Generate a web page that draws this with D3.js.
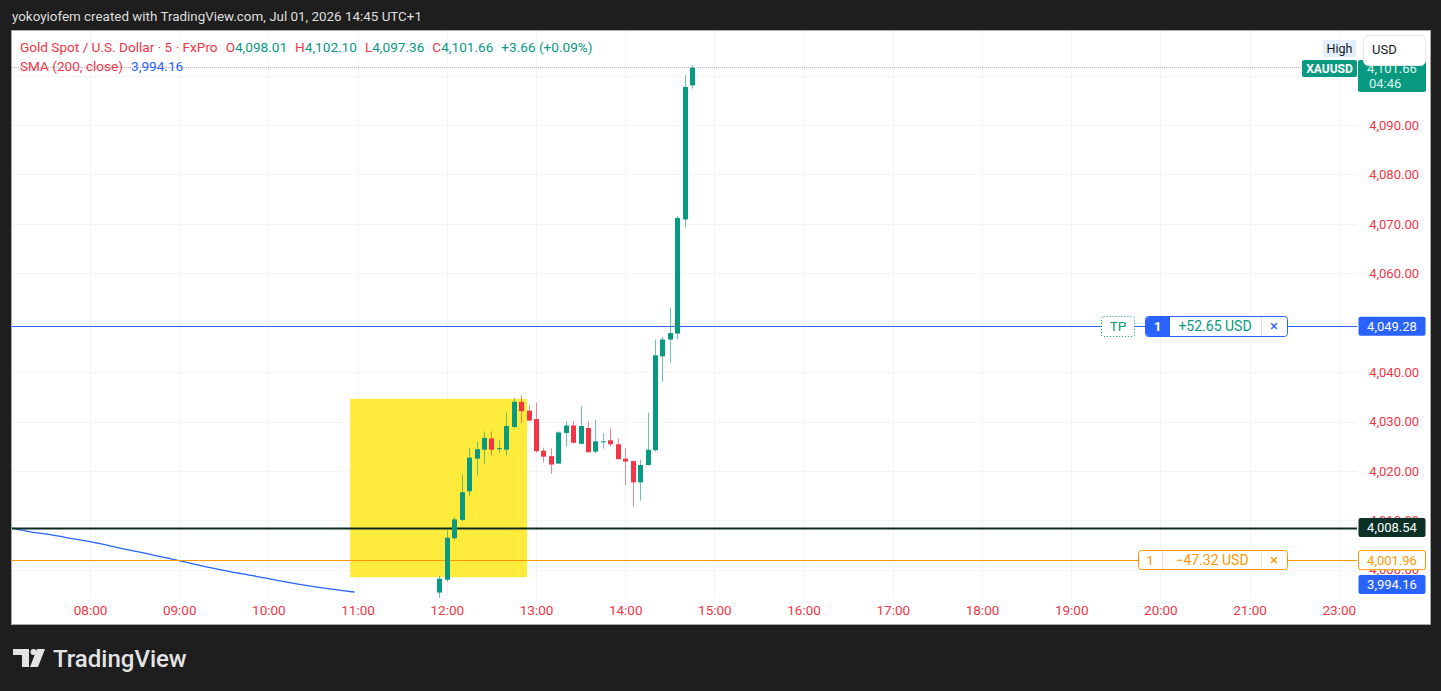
<!DOCTYPE html>
<html>
<head>
<meta charset="utf-8">
<script src="https://cdn.jsdelivr.net/npm/d3@7"></script>
<style>
body{margin:0;background:#1e1e1e;overflow:hidden}
svg{display:block;font-family:Roboto,"Noto Sans",sans-serif}
</style>
</head>
<body>
<svg id="chart" width="1441" height="691"></svg>
<script>
//XAUUSD 5分钟K线 截图复刻

var times=["11:55","12:00","12:05","12:10","12:15","12:20","12:25","12:30","12:35","12:40","12:45","12:50","12:55",
    "13:00","13:05","13:10","13:15","13:20","13:25","13:30","13:35","13:40","13:45","13:50","13:55",
    "14:00","14:05","14:10","14:15","14:20","14:25","14:30","14:35","14:40","14:45"];
var opens =[3995.4,3998.0,4006.4,4010.1,4015.9,4022.5,4024.3,4026.6,4024.4,4024.3,4028.9,4034.0,4032.2,
    4030.5,4024.1,4023.0,4021.5,4027.7,4029.2,4025.5,4028.7,4023.9,4025.9,4026.2,4025.4,
    4022.5,4022.0,4017.7,4021.2,4024.2,4043.2,4046.6,4047.8,4070.9,4098.01];
var highs =[3998.8,4008.0,4010.7,4019.3,4024.7,4025.9,4028.0,4028.0,4026.2,4031.8,4034.8,4035.3,4033.4,
    4033.8,4024.7,4024.6,4028.0,4030.0,4030.1,4033.1,4030.0,4030.4,4027.6,4028.6,4026.6,
    4024.6,4022.1,4022.3,4031.8,4046.6,4047.1,4053.0,4071.6,4100.1,4102.10];
var lows  =[3993.0,3997.6,4006.0,4009.8,4014.9,4019.1,4021.5,4023.1,4023.7,4023.1,4028.7,4029.7,4030.0,
    4023.7,4021.7,4019.4,4021.4,4024.9,4025.6,4025.4,4023.7,4023.5,4024.5,4025.0,4022.3,
    4017.1,4012.8,4014.0,4021.1,4024.0,4038.0,4041.9,4046.6,4069.3,4097.36];
var closes=[3998.2,4006.5,4010.2,4015.7,4022.7,4024.4,4026.7,4024.3,4024.6,4029.1,4034.0,4032.1,4030.2,
    4024.0,4022.9,4021.3,4027.8,4029.2,4025.7,4029.1,4023.8,4026.0,4026.0,4025.4,4022.4,
    4021.9,4017.7,4021.2,4024.3,4043.4,4046.6,4047.9,4071.2,4097.7,4101.66];

//SMA(200) 只有左段在可视范围内
var smaTimes=["07:05","07:20","07:35","07:50","08:05","08:20","08:35","08:50","09:05","09:20","09:35","09:50","10:05","10:20","10:35","10:50","10:58"];
var smaValues=[4008.6,4007.7,4007.0,4006.2,4005.4,4004.4,4003.5,4002.5,4001.5,4000.5,3999.6,3998.8,3997.9,3997.1,3996.4,3995.8,3995.5];

//4050/4100 被标签完全遮挡，不画
var priceTicks=[4000,4010,4020,4030,4040,4060,4070,4080,4090];
var timeTicks=[8,9,10,11,12,13,14,15,16,17,18,19,20,21,22];
var timeLabels=["08:00","09:00","10:00","11:00","12:00","13:00","14:00","15:00","16:00","17:00","18:00","19:00","20:00","21:00","23:00"];

var zoneTimes=["10:55","12:54"];
var zonePrices=[4034.6,3998.5];

var tpPrice=4049.28, slPrice=4001.96, entryPrice=4008.54, smaLast=3994.16, lastPrice=4101.66;

var GREEN="#089981", RED="#f23645", BLUE="#2962ff", ORANGE="#ff9800";
var PANE={left:12,right:1357,top:31,bottom:598};
var FONT="Roboto,'Noto Sans',sans-serif";

var svg=d3.select("#chart");

function hour(s){var p=s.split(":");return +p[0]+(+p[1])/60;}

var x=d3.scaleLinear().domain([8,9]).range([90,179.2]);
var y=d3.scaleLinear().domain([4050,4090]).range([322.7,125]);

//外框 + 白色画布
svg.append("rect").attr("x",11.5).attr("y",30.5).attr("width",1419).attr("height",594)
    .attr("fill","#fff").attr("stroke","#a8a8a8");

//顶部说明
svg.append("text").attr("x",12).attr("y",21).attr("font-size",13.4).attr("fill","#dedede")
    .text("yokoyiofem created with TradingView.com, Jul 01, 2026 14:45 UTC+1");

//网格
var grid=svg.append("g").attr("stroke","#f3f4f6").attr("stroke-width",1);
grid.selectAll("line.h").data(priceTicks.concat([4050,4100])).enter().append("line").attr("class","h")
    .attr("x1",PANE.left).attr("x2",PANE.right)
    .attr("y1",function(d){return Math.round(y(d))+0.5}).attr("y2",function(d){return Math.round(y(d))+0.5});
grid.selectAll("line.v").data(timeTicks).enter().append("line").attr("class","v")
    .attr("y1",PANE.top).attr("y2",PANE.bottom)
    .attr("x1",function(d){return Math.round(x(d))+0.5}).attr("x2",function(d){return Math.round(x(d))+0.5});

svg.append("clipPath").attr("id","pane").append("rect")
    .attr("x",PANE.left).attr("y",PANE.top).attr("width",PANE.right-PANE.left).attr("height",PANE.bottom-PANE.top);
var plot=svg.append("g").attr("clip-path","url(#pane)");

//黄色区域
plot.append("rect")
    .attr("x",x(hour(zoneTimes[0]))).attr("y",y(zonePrices[0]))
    .attr("width",x(hour(zoneTimes[1]))-x(hour(zoneTimes[0])))
    .attr("height",y(zonePrices[1])-y(zonePrices[0]))
    .attr("fill","#ffeb3b");

//SMA
var smaLine=d3.line().x(function(d,i){return x(hour(smaTimes[i]))}).y(function(d){return y(d)}).curve(d3.curveMonotoneX);
plot.append("path").datum(smaValues).attr("d",smaLine).attr("fill","none").attr("stroke",BLUE).attr("stroke-width",1.3);

//水平线
function hline(p,color,w){
    plot.append("line").attr("x1",PANE.left).attr("x2",PANE.right)
        .attr("y1",Math.round(y(p))+0.5).attr("y2",Math.round(y(p))+0.5)
        .attr("stroke",color).attr("stroke-width",w);
}
hline(tpPrice,BLUE,1);
hline(slPrice,ORANGE,1);
hline(entryPrice,"#0b2a22",2);

//K线
var bars=times.map(function(t,i){return {t:hour(t),o:opens[i],h:highs[i],l:lows[i],c:closes[i]}});
var candle=plot.selectAll("g.candle").data(bars).enter().append("g").attr("class","candle");
candle.append("line")
    .attr("x1",function(d){return Math.round(x(d.t))+0.5}).attr("x2",function(d){return Math.round(x(d.t))+0.5})
    .attr("y1",function(d){return y(d.h)}).attr("y2",function(d){return y(d.l)})
    .attr("stroke",function(d){return d.c>=d.o?GREEN:RED}).attr("stroke-opacity",0.6);
candle.append("rect")
    .attr("x",function(d){return Math.round(x(d.t))-2})
    .attr("width",5)
    .attr("y",function(d){return y(Math.max(d.o,d.c))})
    .attr("height",function(d){return Math.max(1,Math.abs(y(d.o)-y(d.c)))})
    .attr("fill",function(d){return d.c>=d.o?GREEN:RED});

//现价虚线
var ly=Math.round(y(lastPrice))+0.5;
svg.append("line").attr("x1",PANE.left).attr("x2",1302).attr("y1",ly).attr("y2",ly)
    .attr("stroke","#f7a6ae").attr("stroke-dasharray","1,3");
svg.append("line").attr("x1",PANE.left+2).attr("x2",1302).attr("y1",ly).attr("y2",ly)
    .attr("stroke","#93b1ff").attr("stroke-dasharray","1,3");

//价格轴
var yAxis=d3.axisRight(y).tickValues(priceTicks).tickFormat(d3.format(",.2f")).tickSize(0);
var ya=svg.append("g").attr("transform","translate(1419,0)").call(yAxis);
ya.select(".domain").remove();
ya.selectAll("text").attr("x",0).attr("text-anchor","end").attr("fill",RED)
    .attr("font-size",13).attr("font-family",FONT);

//时间轴
var xAxis=d3.axisBottom(x).tickValues(timeTicks).tickFormat(function(d,i){return timeLabels[i]}).tickSize(0);
var xa=svg.append("g").attr("transform","translate(0,602)").call(xAxis);
xa.select(".domain").remove();
xa.selectAll("text").attr("fill",RED).attr("font-size",13.5).attr("font-family",FONT);

//图例
var legend=svg.append("text").attr("x",20).attr("y",52).attr("font-size",13.6);
legend.append("tspan").attr("fill",RED).text("Gold Spot / U.S. Dollar · 5 · FxPro");
var ohlc=[["O","4,098.01"],["H","4,102.10"],["L","4,097.36"],["C","4,101.66"]];
ohlc.forEach(function(d){
    legend.append("tspan").attr("fill",RED).attr("dx",8).text(d[0]);
    legend.append("tspan").attr("fill",GREEN).text(d[1]);
});
legend.append("tspan").attr("fill",GREEN).attr("dx",8).text("+3.66 (+0.09%)");

var sma=svg.append("text").attr("x",20).attr("y",71).attr("font-size",13.6);
sma.append("tspan").attr("fill",RED).text("SMA (200, close)");
sma.append("tspan").attr("fill",BLUE).attr("dx",8).text("3,994.16");

//右侧价格标签
function priceTag(p,yc,bg,fg,border){
    var g=svg.append("g");
    g.append("rect").attr("x",1358.5).attr("y",yc-9.5).attr("width",67).attr("height",19).attr("rx",2)
        .attr("fill",bg).attr("stroke",border||"none");
    g.append("text").attr("x",1392).attr("y",yc+4.5).attr("text-anchor","middle")
        .attr("font-size",13).attr("fill",fg).text(d3.format(",.2f")(p));
}
priceTag(tpPrice,y(tpPrice),BLUE,"#fff");
priceTag(entryPrice,y(entryPrice),"#0b3127","#fff");
priceTag(slPrice,y(slPrice),"#fff",ORANGE,ORANGE);
priceTag(smaLast,584.5,BLUE,"#fff");

//现价标签
svg.append("rect").attr("x",1302).attr("y",60).attr("width",55).attr("height",17).attr("rx",2).attr("fill",GREEN);
svg.append("text").attr("x",1329.5).attr("y",73).attr("text-anchor","middle").attr("font-size",12)
    .attr("font-weight","bold").attr("fill","#fff").text("XAUUSD");
svg.append("rect").attr("x",1358).attr("y",60).attr("width",68).attr("height",32).attr("rx",2).attr("fill",GREEN);
svg.append("text").attr("x",1392).attr("y",73).attr("text-anchor","middle").attr("font-size",13)
    .attr("fill","#dff3ee").text(d3.format(",.2f")(lastPrice));
svg.append("text").attr("x",1369).attr("y",88).attr("font-size",13).attr("fill","#dff3ee").text("04:46");

//High / USD 按钮 (盖住现价标签上半)
svg.append("rect").attr("x",1323).attr("y",40).attr("width",33).attr("height",17).attr("fill","#e3effd");
svg.append("text").attr("x",1339.5).attr("y",53).attr("text-anchor","middle").attr("font-size",12.5)
    .attr("fill","#131722").text("High");
svg.append("rect").attr("x",1363.5).attr("y",35.5).attr("width",62).attr("height",30).attr("rx",5)
    .attr("fill","#fff").attr("stroke","#e6e8ee");
svg.append("text").attr("x",1372).attr("y",54).attr("font-size",13).attr("fill","#131722").text("USD");

//TP 订单框
var tpy=Math.round(y(tpPrice));
svg.append("rect").attr("x",1101.5).attr("y",tpy-9.5).attr("width",33).attr("height",20).attr("rx",2)
    .attr("fill","#fff").attr("stroke",GREEN).attr("stroke-dasharray","1,2");
svg.append("text").attr("x",1118).attr("y",tpy+5).attr("text-anchor","middle").attr("font-size",13.5)
    .attr("fill",GREEN).text("TP");
svg.append("rect").attr("x",1145.5).attr("y",tpy-9.5).attr("width",142).attr("height",20).attr("rx",3)
    .attr("fill","#fff").attr("stroke",BLUE);
svg.append("path").attr("d","M1170,"+(tpy-9)+"H1149a3,3 0 0 0 -3,3v13a3,3 0 0 0 3,3H1170Z").attr("fill",BLUE);
svg.append("text").attr("x",1157.5).attr("y",tpy+5).attr("text-anchor","middle").attr("font-size",13.5)
    .attr("font-weight","bold").attr("fill","#fff").text("1");
svg.append("text").attr("x",1215).attr("y",tpy+5).attr("text-anchor","middle").attr("font-size",14)
    .attr("fill",GREEN).text("+52.65 USD");
svg.append("line").attr("x1",1261.5).attr("x2",1261.5).attr("y1",tpy-9).attr("y2",tpy+10).attr("stroke","#d4deff");
svg.append("text").attr("x",1274).attr("y",tpy+5).attr("text-anchor","middle").attr("font-size",15)
    .attr("fill",BLUE).text("×");

//SL 订单框
var sly=Math.round(y(slPrice));
svg.append("rect").attr("x",1138.5).attr("y",sly-9.5).attr("width",149).attr("height",19).attr("rx",3)
    .attr("fill","#fff").attr("stroke",ORANGE);
svg.append("text").attr("x",1150).attr("y",sly+5).attr("text-anchor","middle").attr("font-size",13.5)
    .attr("fill",ORANGE).text("1");
svg.append("line").attr("x1",1162.5).attr("x2",1162.5).attr("y1",sly-9).attr("y2",sly+9).attr("stroke","#ffe0b2");
svg.append("text").attr("x",1212).attr("y",sly+5).attr("text-anchor","middle").attr("font-size",14)
    .attr("fill",ORANGE).text("−47.32 USD");
svg.append("line").attr("x1",1261.5).attr("x2",1261.5).attr("y1",sly-9).attr("y2",sly+9).attr("stroke","#ffe0b2");
svg.append("text").attr("x",1274).attr("y",sly+5).attr("text-anchor","middle").attr("font-size",15)
    .attr("fill",ORANGE).text("×");

//TradingView 标志
var logo=svg.append("g").attr("fill","#e4e4e4");
logo.append("path").attr("d","M13,649H29V667H22V655H13Z");
logo.append("circle").attr("cx",33.5).attr("cy",652).attr("r",3);
logo.append("path").attr("d","M37,649H45L38,667H30Z");
logo.append("text").attr("x",53).attr("y",667).attr("font-size",24).attr("font-weight",500)
    .attr("fill","#e4e4e4").text("TradingView");
</script>
</body>
</html>
